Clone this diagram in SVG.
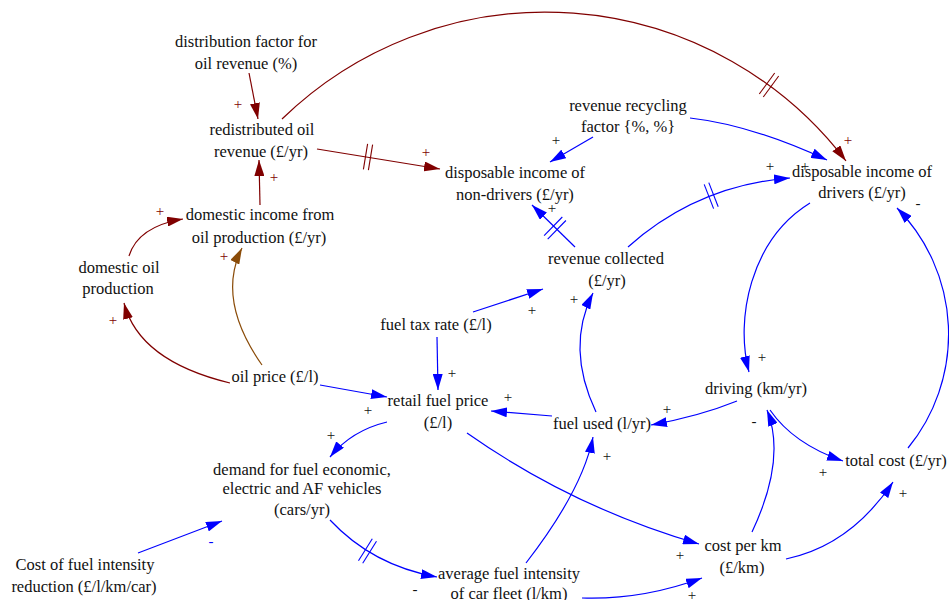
<svg xmlns="http://www.w3.org/2000/svg" width="949" height="600" viewBox="0 0 949 600" font-family="'Liberation Serif', 'Times New Roman', 'DejaVu Serif', serif">
<defs>
<style>
text{font-family:'Liberation Serif','Times New Roman','DejaVu Serif',serif;font-size:16.5px;fill:#111;text-anchor:middle}
.s{font-size:15px}
.sr{font-size:15px;fill:#800000}
.sb{font-size:15px;fill:#0000ff}
.r{fill:none;stroke:#800000;stroke-width:1.2}
.b{fill:none;stroke:#0000ff;stroke-width:1.2}
.o{fill:none;stroke:#8a4b08;stroke-width:1.2}
.hr{stroke:#800000;stroke-width:1.1}
.hb{stroke:#0000ff;stroke-width:1.1}
</style>
<marker id="ar" markerUnits="userSpaceOnUse" markerWidth="16" markerHeight="10" refX="16" refY="5" orient="auto"><path d="M0,0 L16,5 L0,10 z" fill="#800000"/></marker>
<marker id="ab" markerUnits="userSpaceOnUse" markerWidth="16" markerHeight="10" refX="16" refY="5" orient="auto"><path d="M0,0 L16,5 L0,10 z" fill="#0000ff"/></marker>
<marker id="ao" markerUnits="userSpaceOnUse" markerWidth="16" markerHeight="10" refX="16" refY="5" orient="auto"><path d="M0,0 L16,5 L0,10 z" fill="#8a4b08"/></marker>
</defs>
<rect width="949" height="600" fill="#fff"/>
<g id="connectors">
<path class="r" d="M249,73 L258,119" marker-end="url(#ar)"/>
<path class="r" d="M317,149 L440,169" marker-end="url(#ar)"/>
<line class="hr" x1="363.4" y1="169.4" x2="367.6" y2="143.8"/>
<line class="hr" x1="368.4" y1="170.2" x2="372.6" y2="144.6"/>
<path class="r" d="M282,119 A378 378 0 0 1 846,161" marker-end="url(#ar)"/>
<line class="hr" x1="759.3" y1="94" x2="774.7" y2="73"/>
<line class="hr" x1="763.3" y1="97" x2="778.7" y2="76"/>
<path class="r" d="M260,205 L259,160" marker-end="url(#ar)"/>
<path class="r" d="M129,256 Q138,226.5 183,219" marker-end="url(#ar)"/>
<path class="r" d="M230,383 Q139,361 124,303" marker-end="url(#ar)"/>
<path class="o" d="M262,365 Q216,299.5 242,248" marker-end="url(#ao)"/>
<path class="b" d="M593,137 L550,162" marker-end="url(#ab)"/>
<path class="b" d="M690,118 Q751.5,125 827,160" marker-end="url(#ab)"/>
<path class="b" d="M628,247 Q697,185.5 790,178" marker-end="url(#ab)"/>
<line class="hb" x1="704.2" y1="184.4" x2="713.6" y2="208.6"/>
<line class="hb" x1="708.8" y1="182.6" x2="718.2" y2="206.8"/>
<path class="b" d="M575,247 L532,205" marker-end="url(#ab)"/>
<line class="hb" x1="544.1" y1="235.6" x2="562.3" y2="217"/>
<line class="hb" x1="547.7" y1="239.1" x2="565.9" y2="220.5"/>
<path class="b" d="M473,312 L543,289" marker-end="url(#ab)"/>
<path class="b" d="M437,337 L438,390" marker-end="url(#ab)"/>
<path class="b" d="M596,412 Q565.5,347.5 593,293" marker-end="url(#ab)"/>
<path class="b" d="M552,416 L491,411" marker-end="url(#ab)"/>
<path class="b" d="M737,401 Q700,416 651,425" marker-end="url(#ab)"/>
<path class="b" d="M810,203 C750,240 735,320 749,372" marker-end="url(#ab)"/>
<path class="b" d="M770,410 Q793.5,444 843,461" marker-end="url(#ab)"/>
<path class="b" d="M752,532 Q786.5,459 767,410" marker-end="url(#ab)"/>
<path class="b" d="M908,448 A180 180 0 0 0 897,208" marker-end="url(#ab)"/>
<path class="b" d="M786,559 Q850.5,545.5 893,482" marker-end="url(#ab)"/>
<path class="b" d="M320,385 L387,397" marker-end="url(#ab)"/>
<path class="b" d="M387,422 Q351.5,430.5 330,457" marker-end="url(#ab)"/>
<path class="b" d="M467,433 Q573,507.5 699,544" marker-end="url(#ab)"/>
<path class="b" d="M138,553 L222,521" marker-end="url(#ab)"/>
<path class="b" d="M330,520 Q372.5,565.5 437,577" marker-end="url(#ab)"/>
<line class="hb" x1="372.3" y1="538.7" x2="358.5" y2="560.7"/>
<line class="hb" x1="376.5" y1="541.3" x2="362.7" y2="563.3"/>
<path class="b" d="M526,563 Q582.5,490 593,437" marker-end="url(#ab)"/>
<path class="b" d="M582,598 Q642,600 702,578" marker-end="url(#ab)"/>
<text class="sr" x="238" y="109">+</text>
<text class="sr" x="274" y="182">+</text>
<text class="sr" x="160" y="216">+</text>
<text class="sr" x="224" y="261">+</text>
<text class="sr" x="113" y="325">+</text>
<text class="sr" x="426" y="157">+</text>
<text class="sr" x="848" y="145">+</text>
<text class="s" x="556" y="145">+</text>
<text class="s" x="552" y="213">+</text>
<text class="s" x="770" y="171">+</text>
<text class="s" x="805" y="171">+</text>
<text class="s" x="532" y="315">+</text>
<text class="s" x="574" y="304">+</text>
<text class="s" x="452" y="378">+</text>
<text class="s" x="508" y="402">+</text>
<text class="s" x="667" y="414">+</text>
<text class="s" x="607" y="461">+</text>
<text class="s" x="762" y="362">+</text>
<text class="s" x="754" y="426">-</text>
<text class="s" x="823" y="477">+</text>
<text class="s" x="903" y="498">+</text>
<text class="s" x="918" y="208">-</text>
<text class="s" x="368" y="415">+</text>
<text class="s" x="331" y="440">+</text>
<text class="sb" x="211" y="546">-</text>
<text class="s" x="415" y="594">-</text>
<text class="s" x="680" y="560">+</text>
<text class="s" x="692" y="600">+</text>
</g>
<g id="n_distribution"><text x="246" y="47">distribution factor for</text><text x="246" y="69">oil revenue (%)</text></g>
<g id="n_redistributed"><text x="262" y="135">redistributed oil</text><text x="261" y="157">revenue (£/yr)</text></g>
<g id="n_domestic_income"><text x="260" y="220">domestic income from</text><text x="259" y="243">oil production (£/yr)</text></g>
<g id="n_domestic_oil"><text x="119" y="273">domestic oil</text><text x="118" y="294">production</text></g>
<g id="n_oil_price"><text x="275" y="382">oil price (£/l)</text></g>
<g id="n_nondrivers"><text x="515" y="178">disposable income of</text><text x="515" y="200">non-drivers (£/yr)</text></g>
<g id="n_recycling"><text x="628" y="111">revenue recycling</text><text x="628" y="132">factor {%, %}</text></g>
<g id="n_drivers"><text x="862" y="177">disposable income of</text><text x="862" y="198">drivers (£/yr)</text></g>
<g id="n_revenue_collected"><text x="606" y="264">revenue collected</text><text x="607" y="286">(£/yr)</text></g>
<g id="n_fuel_tax"><text x="436" y="330">fuel tax rate (£/l)</text></g>
<g id="n_retail"><text x="438" y="406">retail fuel price</text><text x="438" y="428">(£/l)</text></g>
<g id="n_fuel_used"><text x="602" y="429">fuel used (l/yr)</text></g>
<g id="n_driving"><text x="756" y="394">driving (km/yr)</text></g>
<g id="n_total_cost"><text x="896" y="466">total cost (£/yr)</text></g>
<g id="n_demand"><text x="302" y="475">demand for fuel economic,</text><text x="302" y="494">electric and AF vehicles</text><text x="302" y="515">(cars/yr)</text></g>
<g id="n_cost_reduction"><text x="85" y="570">Cost of fuel intensity</text><text x="84" y="592">reduction (£/l/km/car)</text></g>
<g id="n_avg_intensity"><text x="509" y="579">average fuel intensity</text><text x="509" y="599">of car fleet (l/km)</text></g>
<g id="n_cost_per_km"><text x="743" y="551">cost per km</text><text x="742" y="573">(£/km)</text></g>
</svg>
